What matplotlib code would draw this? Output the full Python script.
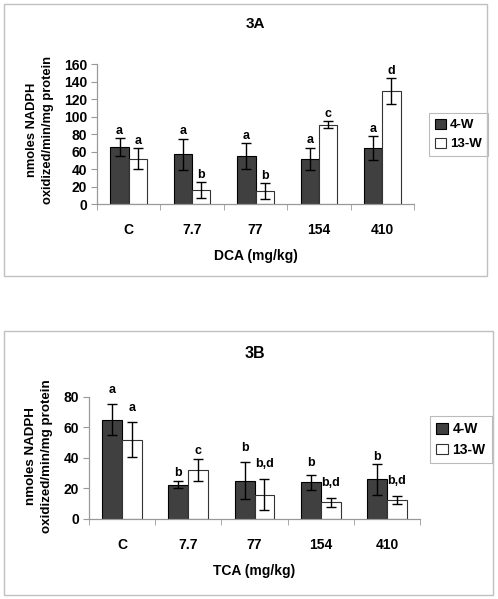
import matplotlib
matplotlib.use("Agg")
import matplotlib.pyplot as plt
from matplotlib.patches import Rectangle
import numpy as np

plt.rcParams['font.family'] = ['Liberation Sans', 'DejaVu Sans']
plt.rcParams['font.weight'] = 'bold'

doses = ['C', '7.7', '77', '154', '410']

# 3A - DCA
dca_4w = [65, 57, 55, 52, 64]
dca_4w_err = [10.5, 18, 14.5, 12.5, 14]
dca_13w = [52, 16, 14.5, 91, 129]
dca_13w_err = [12, 9, 9, 4, 15]
dca_4w_letters = ['a', 'a', 'a', 'a', 'a']
dca_13w_letters = ['a', 'b', 'b', 'c', 'd']

# 3B - TCA
tca_4w = [65, 22.5, 25, 24, 26]
tca_4w_err = [10, 2.5, 12, 5, 10]
tca_13w = [52, 32, 16, 11, 12.5]
tca_13w_err = [11.5, 7, 10.3, 3, 2.8]
tca_4w_letters = ['a', 'b', 'b', 'b', 'b']
tca_13w_letters = ['a', 'c', 'b,d', 'b,d', 'b,d']

W, H = 498, 599
fig = plt.figure(figsize=(W / 100, H / 100), dpi=100)


def fbox(x0, y0, x1, y1):
    # pixel box (top-left origin) -> figure fraction rect
    return [x0 / W, 1 - y1 / H, (x1 - x0) / W, (y1 - y0) / H]


def panel(rect, v4, e4, v13, e13, l4, l13, ymax, ystep, bw,
          title, xlabel, title_y, title_fs, tick_fs, xt_fs, xl_fs, yl_fs, yl_pos,
          leg_rect, leg_fs, frame, letter_pad):
    ax = fig.add_axes(fbox(*rect))
    x = np.arange(len(doses))
    ax.bar(x - bw / 2, v4, bw, color='#404040', edgecolor='black', lw=0.8, label='4-W')
    ax.bar(x + bw / 2, v13, bw, color='white', edgecolor='#333333', lw=0.8, label='13-W')
    ax.errorbar(x - bw / 2, v4, yerr=e4, fmt='none', ecolor='black', elinewidth=1,
                capsize=3.5, capthick=1)
    ax.errorbar(x + bw / 2, v13, yerr=e13, fmt='none', ecolor='black', elinewidth=1,
                capsize=3.5, capthick=1)
    for i in range(len(doses)):
        ax.annotate(l4[i], (x[i] - bw / 2, v4[i] + e4[i]), xytext=(0, letter_pad[0][i]),
                    textcoords='offset points', ha='center', va='bottom',
                    fontsize=9, fontweight='bold')
        ax.annotate(l13[i], (x[i] + bw / 2, v13[i] + e13[i]), xytext=(0, letter_pad[1][i]),
                    textcoords='offset points', ha='center', va='bottom',
                    fontsize=9, fontweight='bold')
    ax.set_xlim(-0.5, len(doses) - 0.5)
    ax.set_ylim(0, ymax)
    ax.set_yticks(np.arange(0, ymax + 1, ystep))
    ax.set_xticks(x)
    ax.set_xticklabels(doses, fontsize=xt_fs, fontweight='bold')
    ax.set_xticks(np.arange(-0.5, len(doses)), minor=True)
    ax.tick_params(axis='x', which='major', length=0, pad=14)
    ax.tick_params(axis='x', which='minor', length=4, color='#999999', direction='out')
    ax.tick_params(axis='y', length=4, color='#999999', labelsize=tick_fs, pad=3)
    for t in ax.get_yticklabels():
        t.set_fontweight('bold')
    for s in ['top', 'right']:
        ax.spines[s].set_visible(False)
    for s in ['left', 'bottom']:
        ax.spines[s].set_color('#999999')
        ax.spines[s].set_linewidth(0.9)
    ax.set_xlabel(xlabel, fontsize=xl_fs, fontweight='bold', labelpad=8)
    fig.text(yl_pos[0] / W, 1 - yl_pos[1] / H, 'nmoles NADPH\noxidized/min/mg protein',
             rotation=90, ha='center', va='center', fontsize=yl_fs,
             fontweight='bold', linespacing=1.4)
    fig.text((rect[0] + rect[2]) / 2 / W, 1 - title_y / H, title,
             ha='center', va='center', fontsize=title_fs, fontweight='bold')
    lx0, ly0, lx1, ly1 = leg_rect
    leg = ax.legend(loc='center', bbox_to_anchor=((lx0 + lx1) / 2 / W, 1 - (ly0 + ly1) / 2 / H),
                    bbox_transform=fig.transFigure, fontsize=leg_fs, frameon=True,
                    fancybox=False, handlelength=0.8, handleheight=0.8,
                    handletextpad=0.35, borderpad=0.45, labelspacing=0.5,
                    borderaxespad=0)
    leg.get_frame().set_edgecolor('#aaaaaa')
    leg.get_frame().set_linewidth(0.8)
    for t in leg.get_texts():
        t.set_fontweight('bold')
    fx0, fy0, fx1, fy1 = frame
    fig.add_artist(Rectangle((fx0 / W, 1 - fy1 / H), (fx1 - fx0) / W, (fy1 - fy0) / H,
                             transform=fig.transFigure, fill=False,
                             edgecolor='#c0c0c0', lw=1))
    return ax


panel((97, 64.3, 414, 204), dca_4w, dca_4w_err, dca_13w, dca_13w_err,
      dca_4w_letters, dca_13w_letters, 160, 20, 0.29,
      '3A', 'DCA (mg/kg)', 24, 11, 10, 10, 10, 9.3, (40, 130),
      (430, 111, 487, 158), 9.5, (4, 4, 487, 276),
      [[1, 1, 1, 1, 1], [1, 1, 1, 1, 1]])

panel((89, 396.7, 420, 519), tca_4w, tca_4w_err, tca_13w, tca_13w_err,
      tca_4w_letters, tca_13w_letters, 80, 20, 0.30,
      '3B', 'TCA (mg/kg)', 353, 11.5, 10, 10, 10, 9.6, (39, 456),
      (433, 417, 489, 462), 10, (4, 331, 493, 595),
      [[6, 1, 6, 4, 1], [6, 2, 6, 6, 6]])

fig.savefig('out.png', dpi=100)
